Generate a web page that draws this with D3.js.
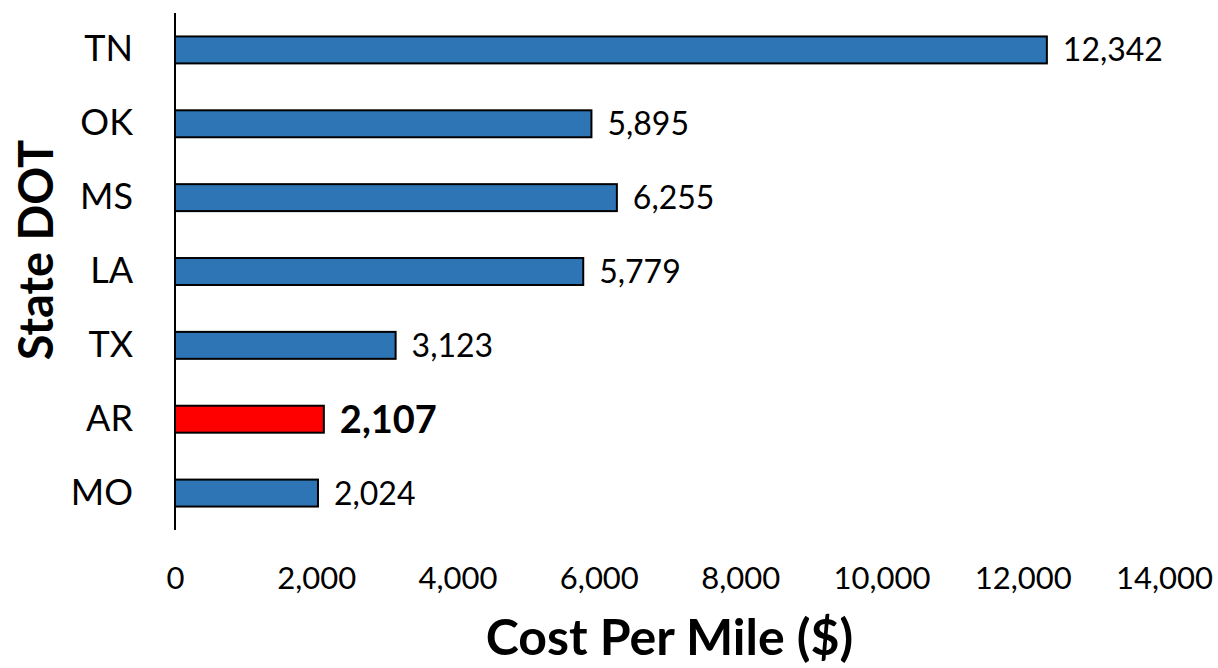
<!DOCTYPE html>
<html><head><meta charset="utf-8">
<script src="https://cdn.jsdelivr.net/npm/d3@7"></script>
<style>body{margin:0;background:#fff}svg{display:block}text{font-family:Lato,"Open Sans",sans-serif}</style>
</head><body>
<svg id="c" width="1218" height="668"></svg>
<script>
const categories = ["TN","OK","MS","LA","TX","AR","MO"];
const values = [12342,5895,6255,5779,3123,2107,2024];
const highlight = ["AR"];
const xTicks = [0,2000,4000,6000,8000,10000,12000,14000];

const svg = d3.select("#c");
const x = d3.scaleLinear().domain([0,14000]).range([175,1164]);
const y = d3.scaleBand().domain(categories).range([13,530]).paddingInner(0.635).paddingOuter(0.3175);
const fmt = d3.format(",");

svg.selectAll("rect.bar").data(categories).enter().append("rect")
  .attr("x", x(0)).attr("y", d => y(d))
  .attr("width", (d,i) => x(values[i]) - x(0))
  .attr("height", y.bandwidth())
  .attr("fill", d => highlight.includes(d) ? "#FF0000" : "#2E75B6")
  .attr("stroke", "#000").attr("stroke-width", 2);

svg.selectAll("text.val").data(categories).enter().append("text")
  .attr("x", (d,i) => x(values[i]) + 16)
  .attr("y", d => y(d) + y.bandwidth()/2)
  .attr("dy", "0.36em")
  .attr("font-size", d => highlight.includes(d) ? 38 : 32)
  .attr("font-weight", d => highlight.includes(d) ? "bold" : "normal")
  .attr("fill", "#000")
  .text((d,i) => fmt(values[i]));

// y axis
const yAxis = d3.axisLeft(y).tickSize(0).tickPadding(42);
const gy = svg.append("g").attr("transform", `translate(${x(0)},0)`).call(yAxis);
gy.select(".domain").remove();
gy.selectAll("text").attr("font-size", 36).attr("fill", "#000").attr("font-family","Lato");
svg.append("line").attr("x1", x(0)).attr("x2", x(0)).attr("y1", 13).attr("y2", 530)
  .attr("stroke", "#000").attr("stroke-width", 2);

// x axis (labels only)
const xAxis = d3.axisBottom(x).tickValues(xTicks).tickFormat(fmt).tickSize(0).tickPadding(0);
const gx = svg.append("g").attr("transform", "translate(0,567)").call(xAxis);
gx.select(".domain").remove();
gx.selectAll("text").attr("font-size", 31).attr("fill", "#000").attr("font-family","Lato");

svg.append("text").attr("x", (x(0)+x(14000))/2).attr("y", 655)
  .attr("text-anchor", "middle").attr("font-size", 50).attr("font-weight", "bold")
  .text("Cost Per Mile ($)");
svg.append("text").attr("transform", "translate(53,250) rotate(-90)")
  .attr("text-anchor", "middle").attr("font-size", 47).attr("font-weight", "bold")
  .text("State DOT");
</script>
</body></html>
